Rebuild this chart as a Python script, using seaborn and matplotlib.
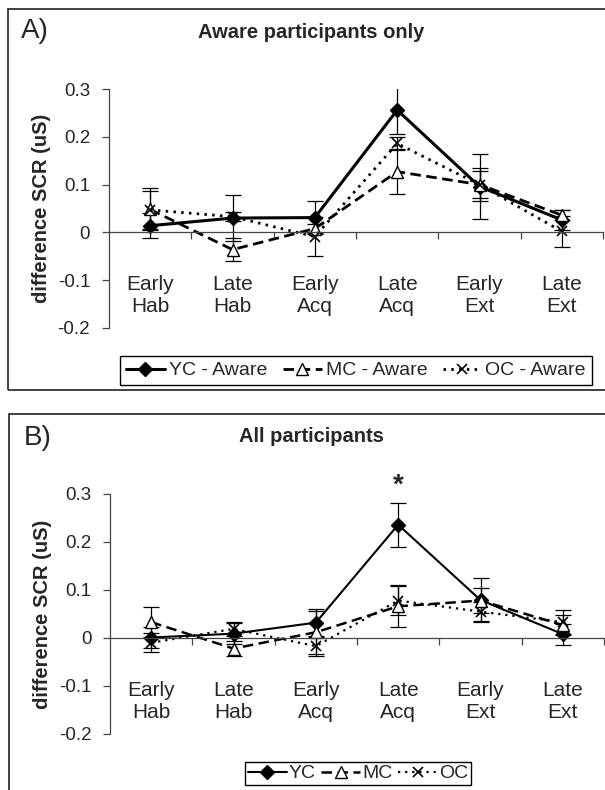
import matplotlib
matplotlib.use("Agg")
import matplotlib.pyplot as plt
import seaborn as sns
import pandas as pd
import numpy as np
from matplotlib.patches import Rectangle
from matplotlib.lines import Line2D

# ---------------- data ----------------
categories = ["Early\nHab", "Late\nHab", "Early\nAcq", "Late\nAcq", "Early\nExt", "Late\nExt"]
ytick_vals = [-0.2, -0.1, 0.0, 0.1, 0.2, 0.3]
ytick_labels = ["-0.2", "-0.1", "0", "0.1", "0.2", "0.3"]

# Panel A: aware participants only
yc_aware = [0.014, 0.030, 0.031, 0.256, 0.096, 0.026]
yc_aware_err = [0.026, 0.049, 0.034, 0.051, 0.067, 0.020]
mc_aware = [0.048, -0.036, 0.008, 0.127, 0.100, 0.036]
mc_aware_err = [0.044, 0.024, 0.010, 0.047, 0.028, 0.010]
oc_aware = [0.047, 0.033, -0.009, 0.186, 0.100, 0.002]
oc_aware_err = [0.040, 0.010, 0.041, 0.014, 0.035, 0.032]

# Panel B: all participants
yc_all = [0.001, 0.009, 0.032, 0.236, 0.079, 0.008]
yc_all_err = [0.022, 0.022, 0.029, 0.046, 0.045, 0.022]
mc_all = [0.033, -0.022, 0.012, 0.066, 0.078, 0.027]
mc_all_err = [0.031, 0.015, 0.045, 0.044, 0.026, 0.020]
oc_all = [-0.010, 0.019, -0.017, 0.078, 0.055, 0.033]
oc_all_err = [0.020, 0.014, 0.021, 0.030, 0.020, 0.025]

legend_a = ["YC - Aware", "MC - Aware", "OC - Aware"]
legend_b = ["YC", "MC", "OC"]

# ---------------- style ----------------
sns.set_style("white")
plt.rcParams['font.family'] = ['Liberation Sans', 'DejaVu Sans']
plt.rcParams['axes.unicode_minus'] = False

W, H = 605, 790
fig = plt.figure(figsize=(W / 100, H / 100), dpi=100)


def fx(px):
    return px / W


def fy(py):
    return 1 - py / H


MARKERS = {
    "YC": dict(marker="D", ms=7.2, mfc="black", mec="black", mew=1.0),
    "MC": dict(marker="^", ms=8, mfc="white", mec="black", mew=1.0),
    "OC": dict(marker="x", ms=7.5, mfc="none", mec="black", mew=1.2),
}


def draw_panel(ax, series, lws, dashes):
    x = np.arange(len(categories))
    for name, vals, errs in series:
        st = MARKERS[name]
        df = pd.DataFrame({"x": x, "y": vals})
        sns.lineplot(data=df, x="x", y="y", ax=ax, color="black", lw=lws[name],
                     marker=st["marker"], markersize=st["ms"],
                     markerfacecolor=st["mfc"], markeredgecolor=st["mec"],
                     markeredgewidth=st["mew"], sort=False,
                     estimator=None, errorbar=None)
        line = ax.lines[-1]
        if dashes[name] is not None:
            line.set_dashes(dashes[name])
        ax.errorbar(x, vals, yerr=errs, fmt="none", ecolor="black", elinewidth=0.9,
                    capsize=5.5, capthick=0.9, zorder=1)
    ax.set_xlim(-0.5, 5.5)
    ax.set_ylim(-0.2, 0.3)
    ax.set_xlabel("")
    for s in ["top", "right"]:
        ax.spines[s].set_visible(False)
    ax.spines["bottom"].set_position(("data", 0))
    for s in ["bottom", "left"]:
        ax.spines[s].set_color("#444444")
        ax.spines[s].set_linewidth(0.9)
    ax.set_yticks(ytick_vals)
    ax.set_yticklabels(ytick_labels, fontsize=13.5)
    ax.set_xticks(np.arange(len(categories)) + 0.5)
    ax.set_xticklabels([])
    ax.set_xticks(np.arange(len(categories)), minor=True)
    ax.set_xticklabels(categories, minor=True, fontsize=15)
    ax.tick_params(axis="x", which="major", direction="out", length=5, width=0.9,
                   color="#444444", bottom=True)
    ax.tick_params(axis="x", which="minor", length=0, pad=31)
    ax.tick_params(axis="y", direction="out", length=5, width=0.9, color="#444444",
                   left=True, pad=8.5)
    ax.set_ylabel("difference SCR (uS)", fontsize=14.5, fontweight="bold")
    ax.yaxis.set_label_coords(-0.118, 0.5)


def legend_handles(lws, dashes):
    hs = []
    for name in ["YC", "MC", "OC"]:
        st = MARKERS[name]
        h = Line2D([], [], color="black", lw=lws[name], marker=st["marker"],
                   markersize=st["ms"], markerfacecolor=st["mfc"],
                   markeredgecolor=st["mec"], markeredgewidth=st["mew"])
        if dashes[name] is not None:
            h.set_dashes(dashes[name])
        hs.append(h)
    return hs


# ---------------- Panel A ----------------
lwA = {"YC": 2.2, "MC": 2.0, "OC": 2.0}
dashA = {"YC": None, "MC": (3.8, 2.0), "OC": (0.9, 1.9)}
axA = fig.add_axes([fx(109), fy(328), fx(603) - fx(109), fy(89) - fy(328)])
draw_panel(axA, [("YC", yc_aware, yc_aware_err),
                 ("MC", mc_aware, mc_aware_err),
                 ("OC", oc_aware, oc_aware_err)], lwA, dashA)

fig.text(fx(21), fy(31), "A)", fontsize=20, va="center", ha="left")
fig.text(fx(311), fy(33), "Aware participants only", fontsize=14.5, fontweight="bold",
         ha="center", va="center")
legA = fig.legend(legend_handles(lwA, dashA), legend_a, loc="center",
                  bbox_to_anchor=(fx(356), fy(370.5)), ncol=3, fontsize=14,
                  frameon=True, fancybox=False, edgecolor="black", framealpha=1,
                  handlelength=2.0, handletextpad=0.2, columnspacing=0.8,
                  borderpad=0.3, borderaxespad=0)
legA.get_frame().set_linewidth(1.0)

fig.patches.append(Rectangle((fx(8), fy(390)), fx(640) - fx(8), fy(9) - fy(390),
                             transform=fig.transFigure, fill=False, ec="#333333", lw=1.3))

# ---------------- Panel B ----------------
lwB = {"YC": 1.5, "MC": 1.8, "OC": 1.6}
dashB = {"YC": None, "MC": (4.2, 2.2), "OC": (1.0, 2.2)}
axB = fig.add_axes([fx(110), fy(734), fx(604) - fx(110), fy(494) - fy(734)])
draw_panel(axB, [("YC", yc_all, yc_all_err),
                 ("MC", mc_all, mc_all_err),
                 ("OC", oc_all, oc_all_err)], lwB, dashB)
axB.text(3, 0.302, "*", ha="center", va="baseline", fontsize=20, fontweight="bold",
         clip_on=False)

fig.text(fx(24), fy(438), "B)", fontsize=20, va="center", ha="left")
fig.text(fx(311), fy(437), "All participants", fontsize=14.5, fontweight="bold",
         ha="center", va="center")
legB = fig.legend(legend_handles(lwB, dashB), legend_b, loc="center",
                  bbox_to_anchor=(fx(358), fy(773.5)), ncol=3, fontsize=14,
                  frameon=True, fancybox=False, edgecolor="black", framealpha=1,
                  handlelength=2.0, handletextpad=0.1, columnspacing=0.3,
                  borderpad=0.12, borderaxespad=0)
legB.get_frame().set_linewidth(1.0)

fig.patches.append(Rectangle((fx(9), fy(800)), fx(640) - fx(9), fy(414) - fy(800),
                             transform=fig.transFigure, fill=False, ec="#333333", lw=1.3))

fig.savefig("out.png", dpi=100)
